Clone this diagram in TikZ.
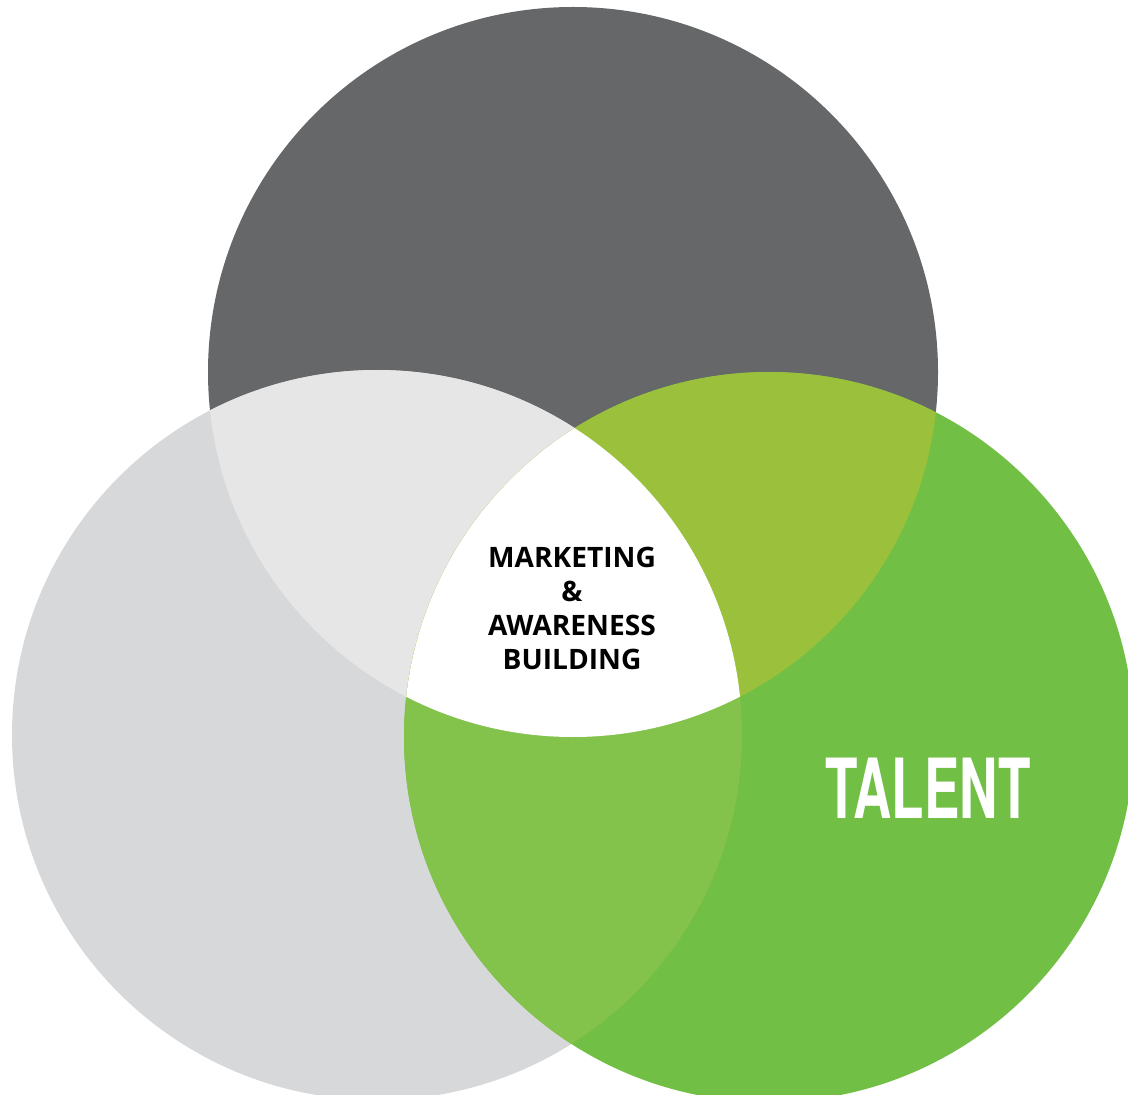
\documentclass[tikz,border=0pt]{standalone}
\usepackage{fontspec}
\setmainfont{Open Sans}
\newfontfamily\talentfont{TeX Gyre Heros}
\definecolor{topgray}{HTML}{666769}
\definecolor{leftgray}{HTML}{D7D8DA}
\definecolor{rightgreen}{HTML}{72BF45}
\definecolor{tlgray}{HTML}{E6E6E6}
\definecolor{trgreen}{HTML}{9BC13C}
\definecolor{lrgreen}{HTML}{83C24B}
\tikzset{
  midtext/.style={align=center,inner sep=1pt,font=\bfseries\fontsize{20}{24.2}\selectfont},
  bigtext/.style={text=white,font=\talentfont\bfseries\fontsize{59}{60}\selectfont}
}

\begin{document}
\begin{tikzpicture}[x=0.025cm,y=-0.025cm]
	\useasboundingbox (0,0) rectangle (1128,1095);
	\clip (0,0) rectangle (1128,1095);
	\def\rad{365}
	\coordinate (T) at (573,372);
	\coordinate (L) at (377,735);
	\coordinate (R) at (769,737);

	% the three circles
	\fill[topgray] (T) circle[radius=\rad];
	\fill[leftgray] (L) circle[radius=\rad];
	\fill[rightgreen] (R) circle[radius=\rad];

	% overlaps
	\begin{scope}
		\clip (T) circle[radius=\rad];
		\fill[tlgray] (L) circle[radius=\rad];
		\fill[trgreen] (R) circle[radius=\rad];
	\end{scope}
	\begin{scope}
		\clip (L) circle[radius=\rad];
		\fill[lrgreen] (R) circle[radius=\rad];
	\end{scope}
	\begin{scope}
		\clip (T) circle[radius=\rad];
		\clip (L) circle[radius=\rad];
		\fill[white] (R) circle[radius=\rad];
	\end{scope}

	\node[midtext] (mab) at (572,608) {MARKETING\\\&\\AWARENESS\\BUILDING};
	\node[bigtext] (talent) at (928,788) {\scalebox{0.64}[1]{TALENT}};
\end{tikzpicture}
\end{document}
